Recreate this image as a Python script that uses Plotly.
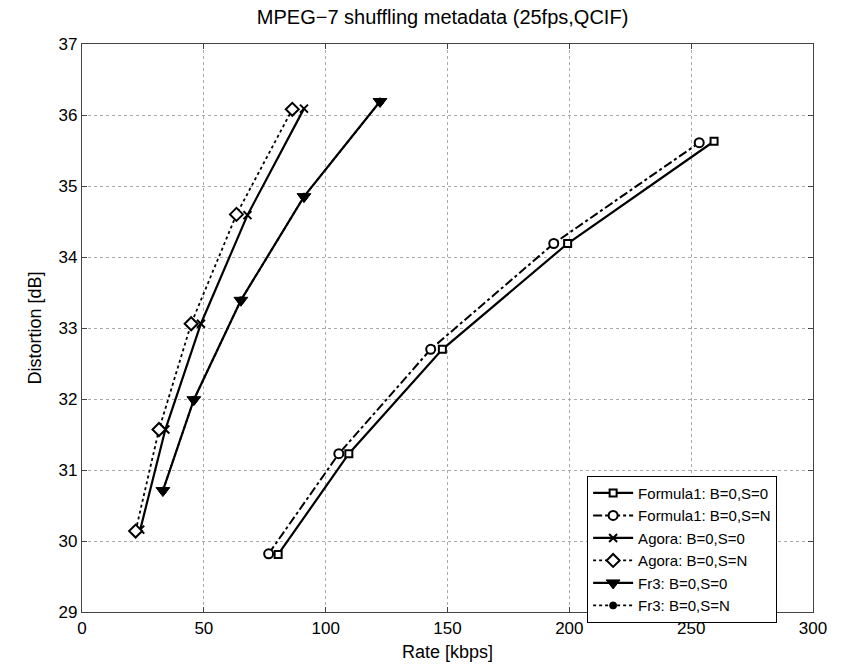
import plotly.graph_objects as go

f1_s0_rate = [80.5, 109.5, 147.9, 199.3, 259.4]
f1_s0_dist = [29.81, 31.23, 32.70, 34.19, 35.63]
f1_sn_rate = [76.6, 105.4, 143.1, 193.6, 253.3]
f1_sn_dist = [29.82, 31.23, 32.70, 34.19, 35.61]
ag_s0_rate = [23.9, 34.2, 48.8, 67.9, 91.1]
ag_s0_dist = [30.16, 31.57, 33.06, 34.59, 36.09]
ag_sn_rate = [22.0, 31.6, 44.8, 63.4, 86.3]
ag_sn_dist = [30.14, 31.57, 33.06, 34.60, 36.08]
fr_s0_rate = [33.2, 45.9, 65.2, 91.1, 122.3]
fr_s0_dist = [30.71, 31.99, 33.39, 34.85, 36.19]
fr_sn_rate = [33.2, 45.9, 65.2, 91.1, 122.3]
fr_sn_dist = [30.71, 31.99, 33.39, 34.85, 36.19]

x_ticks = [0, 50, 100, 150, 200, 250, 300]
y_ticks = [29, 30, 31, 32, 33, 34, 35, 36, 37]

FONT = "Liberation Sans, Arial, sans-serif"
fig = go.Figure()

series = [
    ("Formula1: B=0,S=0", f1_s0_rate, f1_s0_dist, "solid", 2.2,
     dict(symbol="square", size=7, color="white", line=dict(color="black", width=2))),
    ("Formula1: B=0,S=N", f1_sn_rate, f1_sn_dist, "dashdot", 2.0,
     dict(symbol="circle", size=9, color="white", line=dict(color="black", width=2))),
    ("Agora: B=0,S=0", ag_s0_rate, ag_s0_dist, "solid", 2.2,
     dict(symbol="x-thin", size=8, color="black", line=dict(color="black", width=2))),
    ("Agora: B=0,S=N", ag_sn_rate, ag_sn_dist, "dot", 1.8,
     dict(symbol="diamond", size=10, color="white", line=dict(color="black", width=2))),
    ("Fr3: B=0,S=N", fr_sn_rate, fr_sn_dist, "dot", 1.8,
     dict(symbol="circle", size=7, color="black", line=dict(color="black", width=1))),
    ("Fr3: B=0,S=0", fr_s0_rate, fr_s0_dist, "solid", 2.2,
     dict(symbol="triangle-down", size=12, color="black", line=dict(color="black", width=1))),
]
rank = {"Formula1: B=0,S=0": 1, "Formula1: B=0,S=N": 2, "Agora: B=0,S=0": 3,
        "Agora: B=0,S=N": 4, "Fr3: B=0,S=0": 5, "Fr3: B=0,S=N": 6}
for name, xs, ys, dash, w, mk in series:
    fig.add_trace(go.Scatter(
        x=xs, y=ys, mode="lines+markers", name=name,
        line=dict(color="black", width=w, dash=dash),
        marker=mk, legendrank=rank[name]))

axis_common = dict(
    showline=True, linecolor="#444", linewidth=1.2, mirror="ticks",
    ticks="inside", ticklen=5, tickcolor="#444",
    showgrid=True, gridcolor="#aaa", griddash="dot", gridwidth=1,
    zeroline=False, tickfont=dict(family=FONT, size=17, color="black"),
)
fig.update_xaxes(range=[0, 300], tickvals=x_ticks,
                 title=dict(text="Rate [kbps]", font=dict(family=FONT, size=18, color="black"), standoff=8),
                 **axis_common)
fig.update_yaxes(range=[29, 37], tickvals=y_ticks,
                 title=dict(text="Distortion [dB]", font=dict(family=FONT, size=18, color="black"), standoff=12),
                 **axis_common)

fig.update_layout(
    width=843, height=670,
    margin=dict(l=82, r=30, t=44, b=55),
    paper_bgcolor="white", plot_bgcolor="white",
    title=dict(text="MPEG−7 shuffling metadata (25fps,QCIF)", x=0.525, xanchor="center",
               y=0.975, yanchor="middle",
               font=dict(family=FONT, size=20, color="black")),
    legend=dict(x=0.691, y=0.24, xanchor="left", yanchor="top",
                bgcolor="white", bordercolor="black", borderwidth=1,
                font=dict(family=FONT, size=15, color="black"),
                tracegroupgap=0, itemwidth=40),
    showlegend=True,
)

fig.write_html("out.html")
